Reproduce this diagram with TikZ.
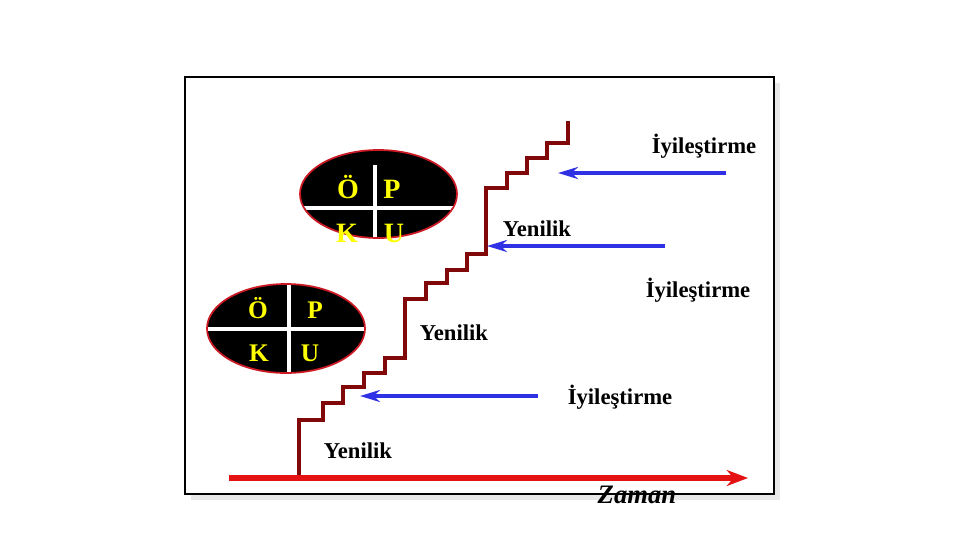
\documentclass[tikz,border=0pt]{standalone}
\usepackage{fontspec}
\setmainfont{Liberation Serif}
\usetikzlibrary{arrows.meta}
\definecolor{stair}{RGB}{128,8,8}
\definecolor{axisred}{RGB}{228,18,18}
\definecolor{arrblue}{RGB}{48,48,228}
\definecolor{ellred}{RGB}{205,25,35}
\definecolor{lettery}{RGB}{255,255,0}
\begin{document}
\begin{tikzpicture}[x=0.75pt,y=-0.75pt,
  lbl/.style={font=\bfseries\fontsize{17}{20}\selectfont, anchor=base, inner sep=0pt},
  bigletter/.style={font=\bfseries\fontsize{21}{24}\selectfont, text=lettery, anchor=base, inner sep=0pt},
  smallletter/.style={font=\bfseries\fontsize{19}{22}\selectfont, text=lettery, anchor=base, inner sep=0pt},
  impr/.style={draw=arrblue, line width=3pt, -{Stealth[length=15pt,width=9pt]}},
  crossline/.style={draw=white, line width=2.5pt},
  ellbox/.style={fill=black, draw=ellred, line width=1.3pt}]
\useasboundingbox (0,0) rectangle (960,540);
% frame with light shadow
\fill[black!9] (191,83) rectangle (780,500);
\fill[white] (185,77) rectangle (774,494);
\draw[black, line width=1.6pt] (185,77) rectangle (774,494);

% top ellipse
\path[ellbox] (378.5,194) ellipse [x radius=78.5, y radius=44];
\begin{scope}
  \clip (378.5,194) ellipse [x radius=77.5, y radius=43];
  \draw[crossline] (300,208) -- (458,208);
  \draw[crossline, line width=3pt] (375,165) -- (375,240);
\end{scope}
\node[bigletter] (o1) at (348,198) {Ö};
\node[bigletter] (p1) at (392,198) {P};
\node[bigletter] (k1) at (347,242) {K};
\node[bigletter] (u1) at (394,242) {U};

% bottom ellipse
\path[ellbox] (286,328.5) ellipse [x radius=79, y radius=44.5];
\begin{scope}
  \clip (286,328.5) ellipse [x radius=78, y radius=43.5];
  \draw[crossline] (200,329) -- (370,329);
  \draw[crossline, line width=3pt] (289,280) -- (289,378);
\end{scope}
\node[smallletter] (o2) at (258,318) {Ö};
\node[smallletter] (p2) at (315,318) {P};
\node[smallletter] (k2) at (259,361) {K};
\node[smallletter] (u2) at (310,361) {U};

% staircase
\coordinate (s0) at (299,477);
\coordinate (s1) at (568,121);
\draw[stair, line width=3pt, line join=miter]
  (s0) |- (323,420) |- (343,403) |- (364,387) |- (385,373) |- (405,358)
  |- (426,299) |- (447,283) |- (467,270) |- (486,254) |- (507,188)
  |- (527,173) |- (547,158) |- (568,143) -- (s1);

% time axis
\coordinate (t0) at (229,478);
\coordinate (t1) at (748,478);
\draw[axisred, line width=3.8pt, -{Stealth[length=16pt,width=12pt]}] (t0) -- (t1);

% improvement arrows
\coordinate (a1s) at (726,173); \coordinate (a1e) at (558,173);
\coordinate (a2s) at (665,246); \coordinate (a2e) at (487,246);
\coordinate (a3s) at (538,396); \coordinate (a3e) at (360,396);
\draw[impr] (a1s) -- (a1e);
\draw[impr] (a2s) -- (a2e);
\draw[impr] (a3s) -- (a3e);

% labels
\node[lbl] (i1) at (704,153) {İyileştirme};
\node[lbl] (y1) at (537,236) {Yenilik};
\node[lbl] (i2) at (698,297) {İyileştirme};
\node[lbl] (y2) at (454,340) {Yenilik};
\node[lbl] (i3) at (620,404) {İyileştirme};
\node[lbl] (y3) at (358,458) {Yenilik};
\node[font=\bfseries\itshape\fontsize{20}{24}\selectfont, anchor=base, inner sep=0pt] (zaman) at (637,503) {Zaman};
\end{tikzpicture}
\end{document}
